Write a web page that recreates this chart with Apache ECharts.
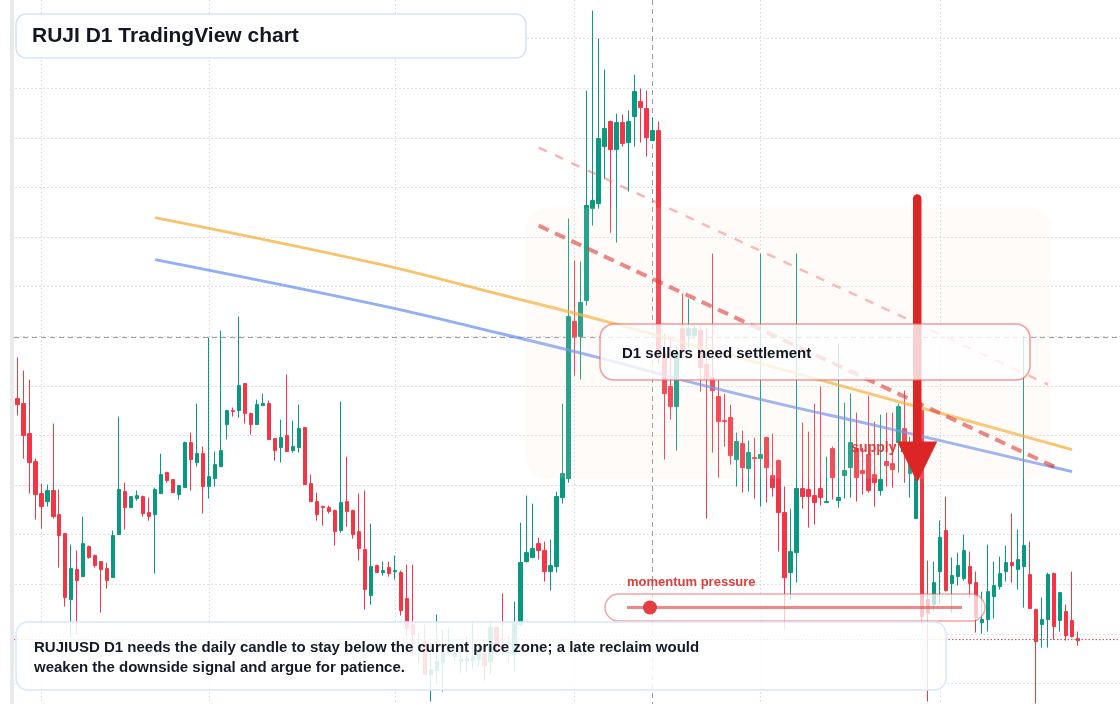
<!DOCTYPE html>
<html>
<head>
<meta charset="utf-8">
<title>RUJI D1 TradingView chart</title>
<script src="https://cdn.jsdelivr.net/npm/echarts@6/dist/echarts.min.js"></script>
<style>
html, body { margin: 0; padding: 0; background: #fff; }
#main { width: 1120px; height: 704px; }
</style>
</head>
<body>
<div id="main"></div>
<script>
// daily candles, values in the chart's own price units
// first candle is 2025-01-28, one empty slot before it and a few after
const firstSlot = '2025-01-27';
const slotsAfter = 7;

// [open, close, low, high]
const ohlc = [
  [285,279,268,326],[280,248,225,313],[250,221,190,304],[222,189,164,225],[190,177,155,200],
  [182,193,177,199],[193,167,165,260],[169,148,116,194],[150,86,77,150],[84,115,46,139],
  [114,103,49,133],[107,140,107,167],[137,126,125,138],[128,118,116,129],[122,114,71,122],
  [115,103,95,121],[106,148,106,153],[149,194,149,267],[192,176,154,201],[176,187,176,187],
  [185,188,183,193],[187,170,167,188],[171,167,163,186],[169,194,110,196],[190,209,190,230],
  [211,203,201,212],[204,191,191,204],[189,198,184,198],[196,241,196,242],[241,224,193,251],
  [221,230,217,280],[230,197,170,237],[197,207,185,346],[205,219,197,232],[217,233,217,353],
  [259,273,244,274],[273,272,267,276],[273,298,266,367],[300,270,260,300],[270,259,249,271],
  [259,279,259,284],[278,280,278,290],[280,244,244,283],[245,233,223,245],[236,246,221,264],
  [248,232,232,309],[233,237,231,263],[236,255,231,279],[256,199,199,256],[200,182,182,209],
  [182,169,163,191],[177,176,158,178],[176,172,170,178],[173,152,138,174],[153,181,151,282],
  [182,172,157,227],[173,149,145,174],[152,135,123,190],[134,94,74,193],[88,117,79,160],
  [118,111,111,119],[111,113,108,122],[116,110,107,122],[112,113,104,128],[111,73,68,113],
  [85,55,47,119],[59,49,27,119],[36,39,21,50],[41,9,9,59],[9,14,-18,41],
  [13,22,0,69],[21,31,-8,54],[31,34,29,55],[27,30,23,37],[22,24,10,37],
  [23,25,12,47],[23,27,14,62],[24,31,18,36],[30,18,3,39],[22,56,9,62],
  [56,38,29,57],[39,35,28,90],[30,31,21,47],[29,60,12,82],[59,121,57,161],
  [122,131,121,188],[126,135,126,180],[140,133,124,146],[133,112,102,142],[112,118,93,144],
  [117,187,111,192],[186,210,180,280],[205,367,201,465],[362,347,308,423],[347,381,304,422],
  [383,478,378,593],[475,483,458,673],[480,545,475,645],[537,555,505,614],[562,534,451,563],
  [534,561,441,570],[561,540,537,569],[541,562,492,573],[567,592,537,609],[582,576,541,595],
  [575,546,527,593],[543,553,543,566],[553,330,320,562],[329,290,224,350],[297,277,264,347],
  [277,331,233,337],[355,333,325,390],[348,355,336,385],[348,355,345,358],[353,316,292,357],
  [319,304,165,356],[306,293,231,430],[287,262,206,304],[263,262,237,290],[266,228,219,279],
  [224,242,197,251],[240,216,191,253],[215,231,192,243],[226,225,185,246],[225,229,177,430],
  [246,216,181,247],[208,196,187,250],[223,171,132,224],[171,106,54,197],[111,132,84,175],
  [131,195,101,430],[195,187,175,261],[194,187,156,252],[188,181,159,280],[195,186,178,297],
  [181,182,181,227],[235,206,184,237],[183,186,176,340],[208,213,185,281],[216,241,186,290],
  [235,206,182,271],[213,210,189,236],[229,193,191,288],[209,201,177,262],[193,204,188,269],
  [222,218,197,271],[220,214,196,271],[241,277,211,280],[255,236,201,293],[210,222,186,247],
  [165,213,165,285],[273,67,60,281],[84,70,-18,123],[79,101,72,122],[112,146,80,163],
  [153,93,92,187],[100,108,71,126],[107,118,98,131],[105,133,103,149],[117,100,85,132],
  [101,66,51,112],[61,64,50,92],[64,92,52,139],[87,98,65,122],[97,110,94,127],
  [112,121,102,138],[121,118,101,170],[114,124,94,154],[117,138,76,348],[109,75,75,142],
  [74,42,-20,75],[59,64,36,86],[64,109,36,111],[110,57,44,111],[63,91,52,91],
  [72,48,43,79],[63,47,46,112],[45,43,38,52]
];

// overlay lines, [candle index, value]
const orangeMa = [[23,466],[60,420],[80,390],[99,361],[144,287],[176,234]];
const blueMa = [[23,424],[60,379],[80,351],[97,326],[112,302],[127,280],[144,257],[176,212]];
const upperTrend = [[87,536],[172,299]];
const lowerTrend = [[87,458],[173,217]];

// annotations, in candle index / value
const zone = { from: 85, to: 172, top: 476, bottom: 205 };
const arrow = { at: 150, from: 485, headBase: 242, to: 201 };
const crosshair = { at: 106, value: 346 };
const lastPrice = 44;
const supplyLabel = { at: 139, value: 235 };

const titleText = 'RUJI D1 TradingView chart';
const noteText = 'D1 sellers need settlement';
const momentumText = 'momentum pressure';
const footLines = [
  'RUJIUSD D1 needs the daily candle to stay below the current price zone; a late reclaim would',
  'weaken the downside signal and argue for patience.'
];

// day slots
const days = [];
const d0 = new Date(firstSlot + 'T00:00:00Z');
for (let k = 0; k < ohlc.length + 1 + slotsAfter; k++) {
  const d = new Date(d0.getTime() + k * 86400000);
  days.push(d.toISOString().slice(0, 10));
}

const FONT = '"Liberation Sans", Arial, sans-serif';
const shift = pts => pts.map(p => [p[0] + 1, p[1]]);
const dotted = { color: '#d3d6dc', type: [1.5, 2.5] };

const chart = echarts.init(document.getElementById('main'));

chart.setOption({
  animation: false,
  backgroundColor: '#ffffff',
  grid: [
    // price pane, full canvas
    { left: 11.3, top: 0, width: 1110, height: 704 },
    // horizontal price grid rows
    { left: 11.3, top: 38.54, width: 1110, height: 645.06 }
  ],
  xAxis: [
    {
      type: 'category',
      data: days,
      boundaryGap: false,
      axisLine: { show: false },
      axisTick: { show: false },
      axisLabel: { show: false },
      splitLine: {
        show: true,
        interval: (i, d) => d.slice(8) === '01',
        lineStyle: dotted
      }
    },
    { gridIndex: 1, type: 'value', min: 0, max: 1, show: false }
  ],
  yAxis: [
    {
      type: 'value',
      min: -20.4,
      max: 683.6,
      axisLine: { show: false },
      axisTick: { show: false },
      axisLabel: { show: false },
      splitLine: { show: false }
    },
    {
      gridIndex: 1,
      type: 'value',
      min: 0,
      max: 13,
      interval: 1,
      axisLine: { show: false },
      axisTick: { show: false },
      axisLabel: { show: false },
      splitLine: { show: true, lineStyle: dotted }
    }
  ],
  series: [
    {
      type: 'candlestick',
      data: [['-', '-', '-', '-']].concat(ohlc),
      barWidth: 4,
      clip: false,
      itemStyle: {
        color: '#089981', color0: '#f23645',
        borderColor: '#089981', borderColor0: '#f23645', borderWidth: 1
      }
    },
    {
      type: 'line', data: shift(orangeMa), smooth: 0.4, symbol: 'none', z: 3,
      lineStyle: { color: 'rgba(245,172,50,0.72)', width: 3 }
    },
    {
      type: 'line', data: shift(blueMa), smooth: 0.4, symbol: 'none', z: 3,
      lineStyle: { color: 'rgba(100,140,240,0.7)', width: 3 }
    },
    {
      type: 'line', data: shift(upperTrend), symbol: 'none', z: 3,
      lineStyle: { color: 'rgba(236,80,80,0.42)', width: 2.5, type: [9, 9] }
    },
    {
      type: 'line', data: shift(lowerTrend), symbol: 'none', z: 3,
      lineStyle: { color: 'rgba(220,38,38,0.62)', width: 4, type: [11, 7] }
    }
  ]
});

const toPx = (i, v) => chart.convertToPixel({ gridIndex: 0 }, [i + 1, v]);
const zTL = toPx(zone.from, zone.top);
const zBR = toPx(zone.to, zone.bottom);
const aTop = toPx(arrow.at, arrow.from);
const aBase = toPx(arrow.at, arrow.headBase);
const aTip = toPx(arrow.at, arrow.to);
const cross = toPx(crosshair.at, crosshair.value);
const last = toPx(0, lastPrice);
const sup = toPx(supplyLabel.at, supplyLabel.value);

chart.setOption({
  graphic: [
    // crosshair and last price line
    { type: 'line', z: 1, shape: { x1: 14, y1: cross[1], x2: 1120, y2: cross[1] },
      style: { stroke: '#9598a1', lineWidth: 1, lineDash: [5, 4] } },
    { type: 'line', z: 1, shape: { x1: cross[0], y1: 0, x2: cross[0], y2: 704 },
      style: { stroke: '#9598a1', lineWidth: 1, lineDash: [5, 4] } },
    { type: 'line', z: 1, shape: { x1: 14, y1: last[1], x2: 1120, y2: last[1] },
      style: { stroke: '#f23645', lineWidth: 1, lineDash: [1.5, 2] } },
    // left edge strip
    { type: 'rect', z: 20, shape: { x: 10, y: 0, width: 4, height: 704 },
      style: { fill: '#e8e9eb' } },
    // supply zone shading
    { type: 'rect', z: 4,
      shape: { x: zTL[0] - 1, y: zTL[1], width: zBR[0] + 3 - (zTL[0] - 1), height: zBR[1] - zTL[1], r: 22 },
      style: { fill: 'rgba(245,225,205,0.14)' } },
    { type: 'text', z: 5, x: sup[0] + 1, y: sup[1],
      style: { text: 'supply zone', font: 'bold 14px ' + FONT, fill: 'rgba(222,40,44,0.88)', verticalAlign: 'middle' } },
    // arrow
    { type: 'line', z: 6, shape: { x1: aTop[0] + 1, y1: aTop[1], x2: aBase[0] + 1, y2: aBase[1] + 2 },
      style: { stroke: '#dc2626', lineWidth: 8.5, lineCap: 'round' } },
    { type: 'polygon', z: 6,
      shape: { points: [[aBase[0] - 19, aBase[1]], [aBase[0] + 21, aBase[1]], [aTip[0] + 1, aTip[1]]] },
      style: { fill: '#dc2626' } },
    // settlement note
    { type: 'rect', z: 10, shape: { x: 600, y: 324, width: 430, height: 56, r: 14 },
      style: { fill: 'rgba(255,255,255,0.78)', stroke: 'rgba(236,90,90,0.6)', lineWidth: 1.5 } },
    { type: 'text', z: 11, x: 622, y: 353.5,
      style: { text: noteText, font: 'bold 15px ' + FONT, fill: '#131722', verticalAlign: 'middle' } },
    // momentum pill
    { type: 'text', z: 11, x: 627, y: 582,
      style: { text: momentumText, font: 'bold 13px ' + FONT, fill: '#e03c3c', verticalAlign: 'middle' } },
    { type: 'rect', z: 10, shape: { x: 605, y: 594, width: 380, height: 27, r: 13.5 },
      style: { fill: 'rgba(255,255,255,0.72)', stroke: 'rgba(236,90,90,0.55)', lineWidth: 1.5 } },
    { type: 'line', z: 11, shape: { x1: 627, y1: 607.5, x2: 962, y2: 607.5 },
      style: { stroke: 'rgba(234,84,84,0.7)', lineWidth: 3 } },
    { type: 'circle', z: 12, shape: { cx: 650, cy: 607.5, r: 7 },
      style: { fill: '#e53e3e' } },
    // title
    { type: 'rect', z: 10, shape: { x: 16, y: 14, width: 510, height: 44, r: 10 },
      style: { fill: 'rgba(255,255,255,0.95)', stroke: '#d5e3fa', lineWidth: 1.5 } },
    { type: 'text', z: 11, x: 32, y: 36.5,
      style: { text: titleText, font: 'bold 21px ' + FONT, fill: '#131722', verticalAlign: 'middle' } },
    // footnote
    { type: 'rect', z: 10, shape: { x: 16, y: 622, width: 930, height: 68, r: 12 },
      style: { fill: 'rgba(255,255,255,0.86)', stroke: '#d9e6fb', lineWidth: 1.5 } },
    { type: 'text', z: 11, x: 34, y: 648,
      style: { text: footLines[0], font: 'bold 15px ' + FONT, fill: '#151b28', verticalAlign: 'middle' } },
    { type: 'text', z: 11, x: 34, y: 668,
      style: { text: footLines[1], font: 'bold 15px ' + FONT, fill: '#151b28', verticalAlign: 'middle' } }
  ]
});
</script>
</body>
</html>
